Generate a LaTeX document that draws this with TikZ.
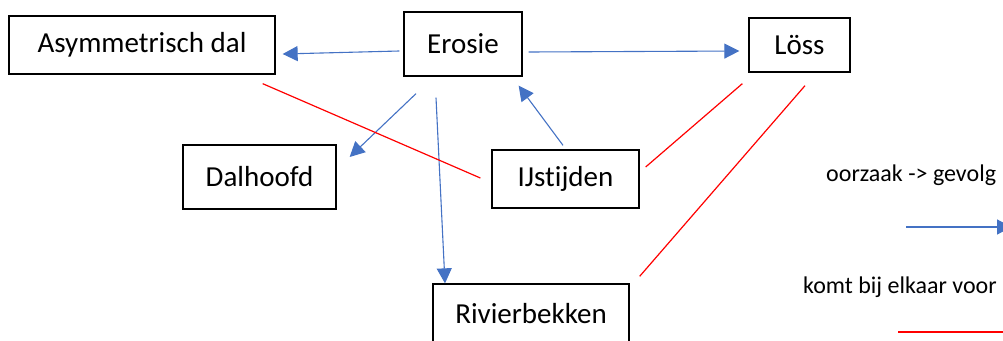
\documentclass[tikz,border=0pt]{standalone}
\usepackage{fontspec}
\setmainfont{Carlito}[Ligatures=NoCommon]
\usetikzlibrary{arrows.meta,calc}
\definecolor{arrowblue}{HTML}{4472C4}
\definecolor{linkred}{HTML}{FF0000}
\tikzset{
  box/.style={draw=black, line width=1.3pt, rectangle, inner sep=0pt, anchor=center,
    font=\fontsize{29}{33}\selectfont},
  cause/.style={draw=arrowblue, line width=1.1pt, -{Triangle[length=15pt,width=15pt]}},
  together/.style={draw=linkred, line width=1.2pt},
  legendtxt/.style={inner sep=0pt, font=\fontsize{24}{28}\selectfont}
}
\begin{document}
\begin{tikzpicture}[x=1pt,y=-1pt]
\useasboundingbox (0,0) rectangle (1003,340);
% boxes
\node[box, minimum width=266pt, minimum height=58pt] (asym) at (142,45) {Asymmetrisch dal};
\node[box, minimum width=118pt, minimum height=64pt] (erosie) at (463,44) {Erosie};
\node[box, minimum width=101pt, minimum height=54pt] (loss) at (799.5,45) {Löss};
\node[box, minimum width=153pt, minimum height=64pt] (dalhoofd) at (259.5,177) {Dalhoofd};
\node[box, minimum width=147pt, minimum height=58pt] (ijs) at (565.5,179) {IJstijden};
\node[box, minimum width=196pt, minimum height=60pt] (rivier) at (531,314) {Rivierbekken};
% cause -> effect arrows
\draw[cause] ($(erosie.west)+(-4,7)$) -- ($(asym.east)+(7,9)$);
\draw[cause] ($(erosie.east)+(6,8)$) -- ($(loss.west)+(-9,6)$);
\draw[cause] ($(erosie.south)+(-47,17)$) -- ($(dalhoofd.east)+(13,-20)$);
\draw[cause] ($(erosie.south)+(-27,21)$) -- ($(rivier.north)+(-86,0)$);
\draw[cause] ($(ijs.north)+(-2.5,-4)$) -- ($(erosie.south east)+(-4,9)$);
% occur together lines
\draw[together] ($(asym.south east)+(-13,9)$) -- ($(ijs.west)+(-11,-1)$);
\draw[together] ($(ijs.east)+(6,-12)$) -- ($(loss.south west)+(-6,11)$);
\draw[together] ($(rivier.north east)+(10,-7)$) -- ($(loss.south)+(5.5,13)$);
% legend
\node[legendtxt, anchor=base west] (lgcause) at (826,181) {oorzaak -> gevolg};
\node[legendtxt, anchor=base west] (lgtogether) at (803,293) {komt bij elkaar voor};
\coordinate (lcA) at (906,227);
\coordinate (lcB) at (1012,227);
\coordinate (ltA) at (898,332);
\coordinate (ltB) at (1010,332);
\draw[cause] (lcA) -- (lcB);
\draw[together] (ltA) -- (ltB);
\end{tikzpicture}
\end{document}
